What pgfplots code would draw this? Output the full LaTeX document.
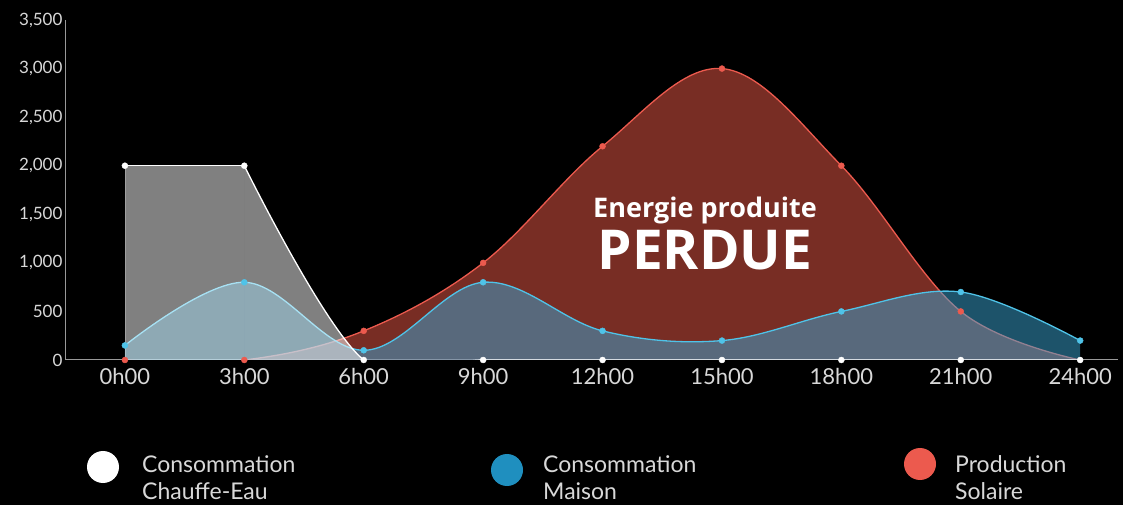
\documentclass[border=0pt]{standalone}
\usepackage{pgfplots}
\pgfplotsset{compat=1.18}
\usepackage{fontspec}
\setmainfont{Lato}
\newfontfamily\titlefont{Open Sans}
\definecolor{cBlue}{HTML}{4FC3E8}
\definecolor{cBlueFill}{HTML}{3AA6D4}
\definecolor{cRed}{HTML}{EC5A4E}
\definecolor{cRedFill}{HTML}{F05A48}
\definecolor{cLegBlue}{HTML}{1F8FBF}
\definecolor{cTxt}{HTML}{D8D8D8}
\begin{document}
\begin{tikzpicture}
\fill[black] (-66pt,-145pt) rectangle (1057pt,360pt);
\begin{axis}[
  scale only axis, width=1052pt, height=340pt,
  at={(0pt,0pt)}, anchor=south west,
  xmin=-1.48, xmax=24.95, ymin=0, ymax=3500,
  axis lines=left,
  axis line style={-, draw=gray!80, line width=1pt},
  major tick length=0pt,
  xtick={0,3,6,9,12,15,18,21,24},
  xticklabels={0h00,3h00,6h00,9h00,12h00,15h00,18h00,21h00,24h00},
  ytick={0,500,1000,1500,2000,2500,3000,3500},
  /pgf/number format/.cd, 1000 sep={,}, assume math mode=true,
  /pgfplots/.cd,
  xticklabel style={font=\fontsize{22}{24}\selectfont, text=cTxt, yshift=-5pt},
  yticklabel style={font=\fontsize{17}{19}\selectfont, text=cTxt, xshift=0pt},
  clip=true,
]
% Production Solaire
\addplot[smooth, tension=0.6, fill=cRedFill, fill opacity=0.5, draw=none]
 coordinates {(0,0) (3,0) (6,300) (9,1000) (12,2200) (15,3000) (18,2000) (21,500) (24,0)} \closedcycle;
\addplot[smooth, tension=0.6, draw=cRed, line width=1.3pt]
 coordinates {(0,0) (3,0) (6,300) (9,1000) (12,2200) (15,3000) (18,2000) (21,500) (24,0)};
% Consommation Maison
\addplot[smooth, tension=0.6, fill=cBlueFill, fill opacity=0.5, draw=none]
 coordinates {(0,150) (3,800) (6,100) (9,800) (12,300) (15,200) (18,500) (21,700) (24,200)} \closedcycle;
\addplot[smooth, tension=0.6, draw=cBlue, line width=1.3pt]
 coordinates {(0,150) (3,800) (6,100) (9,800) (12,300) (15,200) (18,500) (21,700) (24,200)};
% Consommation Chauffe-Eau (flat part, then falling part)
\addplot[sharp plot, fill=white, fill opacity=0.5, draw=white, draw opacity=0.25, line width=0.8pt]
 coordinates {(0,2000) (3,2000)} \closedcycle;
\addplot[smooth, tension=0.6, fill=white, fill opacity=0.5, draw=none]
 coordinates {(3,2000) (6,0) (9,0) (12,0) (15,0) (18,0) (21,0) (24,0)} \closedcycle;
\addplot[sharp plot, draw=white, line width=1.3pt]
 coordinates {(0,2000) (3,2000)};
\addplot[smooth, tension=0.6, draw=white, line width=1.3pt]
 coordinates {(3,2000) (6,0) (9,0) (12,0) (15,0) (18,0) (21,0) (24,0)};
% marks
\addplot[only marks, mark=*, mark size=3pt, color=cRed, clip=false]
 coordinates {(0,0) (3,0) (6,300) (9,1000) (12,2200) (15,3000) (18,2000) (21,500)};
\addplot[only marks, mark=*, mark size=3pt, color=cBlue, clip=false]
 coordinates {(0,150) (3,800) (6,100) (9,800) (12,300) (15,200) (18,500) (21,700) (24,200)};
\addplot[only marks, mark=*, mark size=3pt, color=white, clip=false]
 coordinates {(0,2000) (3,2000) (6,0) (9,0) (12,0) (15,0) (18,0) (21,0) (24,0)};
\end{axis}
\node[text=white, font=\titlefont\bfseries\fontsize{27}{30}\selectfont] at (639pt,150pt) {Energie produite};
\node[text=white, font=\titlefont\bfseries\fontsize{55}{58}\selectfont] at (639pt,110pt) {PERDUE};
% legend
\fill[white] (37pt,-107pt) circle (16pt);
\node[anchor=west, align=left, text=cTxt, font=\fontsize{23}{27}\selectfont, inner sep=0pt] at (76pt,-118pt) {Consommation\\Chauffe-Eau};
\fill[cLegBlue] (441pt,-110pt) circle (16pt);
\node[anchor=west, align=left, text=cTxt, font=\fontsize{23}{27}\selectfont, inner sep=0pt] at (477pt,-118pt) {Consommation\\Maison};
\fill[cRed] (854pt,-104pt) circle (16pt);
\node[anchor=west, align=left, text=cTxt, font=\fontsize{23}{27}\selectfont, inner sep=0pt] at (889pt,-118pt) {Production\\Solaire};
\end{tikzpicture}
\end{document}
